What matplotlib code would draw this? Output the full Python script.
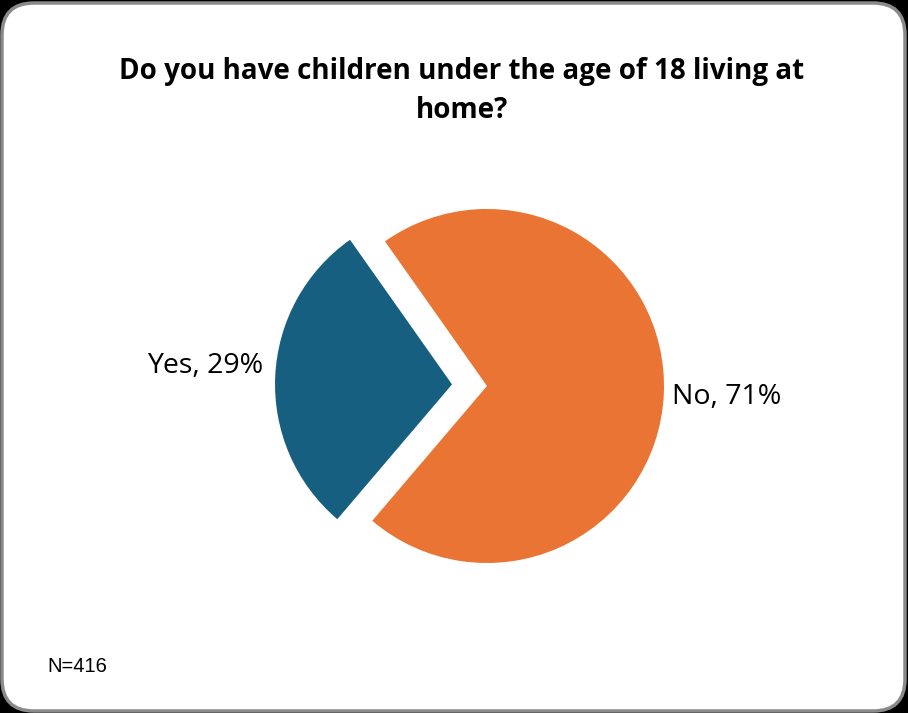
import matplotlib.pyplot as plt
from matplotlib.patches import FancyBboxPatch

title = "Do you have children under the age of 18 living at\nhome?"
categories = ["Yes", "No"]
shares = [29, 71]
colors = ["#175F80", "#E97433"]
note = "N=416"

W, H = 908, 713
fig = plt.figure(figsize=(W / 100, H / 100), dpi=100, facecolor="black")

# rounded white card with grey frame
card = FancyBboxPatch((2, 2), W - 5, H - 5, boxstyle="round,pad=0,rounding_size=32",
                      transform=None, facecolor="white", edgecolor="#8a8a8a",
                      linewidth=2.5, zorder=-10)
fig.patches.append(card)

ax = fig.add_axes([0, 0, 1, 1])
ax.patch.set_visible(False)

radius = 177
center = (487, H - 386)
start = 177.4 - shares[0] / 100 * 180
ax.pie(shares, colors=colors, radius=radius, center=center, startangle=start,
       explode=[35, 0], wedgeprops=dict(linewidth=0), frame=True)
ax.set_xlim(0, W)
ax.set_ylim(0, H)
ax.set_aspect("equal")
ax.axis("off")

label_pos = [(205, H - 366), (727, H - 397)]
for (x, y), cat, s in zip(label_pos, categories, shares):
    ax.text(x, y, f"{cat}, {s}%", ha="center", va="center", fontsize=20.5,
            family="Open Sans", color="black")

fig.text(462 / W, 1 - 91 / H, title, ha="center", va="center", fontsize=20,
         family="Open Sans", fontweight="bold", linespacing=1.42)
fig.text(47 / W, 1 - 666 / H, note, ha="left", va="center", fontsize=14.5,
         family="Liberation Sans")

fig.savefig("out.png", dpi=100, facecolor="black")
